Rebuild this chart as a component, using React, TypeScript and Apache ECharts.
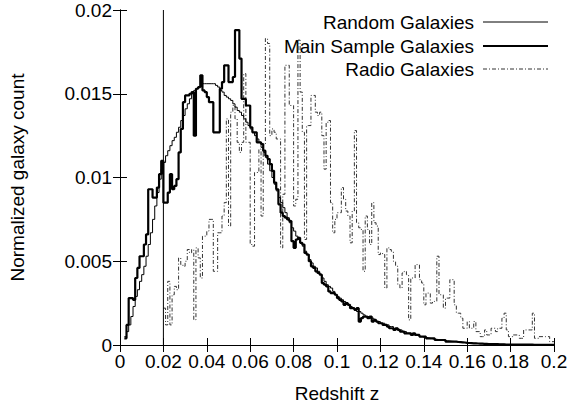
import React, { useEffect, useRef } from "react";
import * as echarts from "echarts";

const seriesNames = ["Random Galaxies", "Main Sample Galaxies", "Radio Galaxies"];
const binWidth = 0.001;
const cutZ = 0.02;

const randomStart = 0.002;
const randomValues = [
  0.0005, 0.0008, 0.0012, 0.0017, 0.0023, 0.0029, 0.0033, 0.0038, 0.0042, 0.0047, 0.0053, 0.006, 0.0067, 0.0075, 0.0083, 0.0091, 0.0099, 0.0105,
  0.0109, 0.0113, 0.0116, 0.0119, 0.0122, 0.0124, 0.0127, 0.013, 0.0134, 0.0137, 0.0141, 0.0144, 0.0147, 0.015, 0.0152, 0.0153, 0.0154, 0.0155, 0.0156, 0.0156,
  0.0156, 0.0156, 0.0156, 0.0156, 0.0155, 0.0154, 0.0152, 0.0151, 0.0149, 0.0148, 0.0147, 0.0146, 0.0144, 0.0142, 0.014, 0.0139, 0.0137, 0.0135, 0.0133, 0.0131,
  0.0129, 0.0127, 0.0125, 0.0123, 0.0121, 0.0118, 0.0115, 0.0112, 0.0108, 0.0104, 0.01, 0.0096, 0.0092, 0.0088, 0.0085, 0.0082, 0.0079, 0.0076, 0.0073, 0.007,
  0.0068, 0.0065, 0.0063, 0.0061, 0.0059, 0.0056, 0.0054, 0.0051, 0.0049, 0.0047, 0.0046, 0.0044, 0.0042, 0.004, 0.0038, 0.0036, 0.0035, 0.0034, 0.0032, 0.003,
  0.0029, 0.0028, 0.0027, 0.0026, 0.0025, 0.0024, 0.0023, 0.0022, 0.0021, 0.002, 0.002, 0.0019, 0.0018, 0.0017, 0.0017, 0.0016, 0.0016, 0.0015, 0.0014, 0.0014,
  0.0013, 0.0013, 0.0012, 0.0012, 0.0011, 0.0011, 0.001, 0.001, 0.0009, 0.0009, 0.0008, 0.0008, 0.0007, 0.0007, 0.0007, 0.0006, 0.0006, 0.0006, 0.0005, 0.0005,
  0.00045, 0.00043, 0.0004, 0.00038, 0.00036, 0.00034, 0.00032, 0.0003, 0.00028, 0.00027, 0.00025, 0.00024, 0.00022, 0.00021, 0.0002, 0.00018, 0.00017, 0.00016, 0.00015, 0.00013,
  0.00012, 0.00011, 0.0001, 0.0001, 0.00009, 0.00008, 0.00008, 0.00007, 0.00007, 0.00006, 0.00006, 0.00005, 0.00005, 0.00005, 0.00004, 0.00004, 0.00004, 0.00003, 0.00003, 0.00003,
  0.00003, 0.00002, 0.00002, 0.00002, 0.00002, 0.00002, 0.00002, 0.00002, 0.00002, 0.00002, 0.00001, 0.00001, 0.00001, 0.00001, 0.00001, 0.00001, 0.00001, 0.00001, 0.00001, 0.00001,
];

const mainStart = 0.002;
const mainValues = [
  0.0004, 0.0012, 0.0028, 0.0028, 0.0027, 0.004, 0.0046, 0.0053, 0.0053, 0.006, 0.0066, 0.0093, 0.0093, 0.0088, 0.0088, 0.0094, 0.0102, 0.011,
  0.0085, 0.0085, 0.0091, 0.0102, 0.0093, 0.0095, 0.0099, 0.0115, 0.0129, 0.0145, 0.0149, 0.0149, 0.015, 0.0151, 0.0125, 0.0153, 0.0154, 0.0161, 0.0152, 0.0151,
  0.0148, 0.0145, 0.0145, 0.0127, 0.0127, 0.0127, 0.0153, 0.0157, 0.0167, 0.0167, 0.0157, 0.0157, 0.016, 0.0188, 0.0188, 0.0171, 0.0147, 0.0147, 0.0143, 0.0143,
  0.013, 0.0127, 0.0127, 0.0121, 0.0121, 0.012, 0.0116, 0.0113, 0.0111, 0.0108, 0.0104, 0.0097, 0.0093, 0.0084, 0.0079, 0.0077, 0.0076, 0.0075, 0.0074, 0.0062,
  0.0058, 0.0063, 0.0064, 0.0061, 0.006, 0.0055, 0.0054, 0.005, 0.0047, 0.0046, 0.0044, 0.0043, 0.0042, 0.0037, 0.0036, 0.0035, 0.0032, 0.0031, 0.0031, 0.003,
  0.0028, 0.0027, 0.0026, 0.0024, 0.0025, 0.0024, 0.0022, 0.0022, 0.0021, 0.0022, 0.0014, 0.0016, 0.0017, 0.0017, 0.0016, 0.0017, 0.0014, 0.0015, 0.0014, 0.0013,
  0.0013, 0.0012, 0.0012, 0.0011, 0.001, 0.001, 0.0009, 0.001, 0.0009, 0.0008, 0.0008, 0.0007, 0.0007, 0.0007, 0.0006, 0.0007, 0.0006, 0.0006, 0.0005, 0.0005,
  0.0005, 0.0004, 0.0004, 0.0004, 0.0004, 0.0003, 0.0003, 0.0003, 0.0003, 0.0003, 0.0002, 0.0002, 0.0002, 0.0002, 0.0002, 0.00018, 0.00017, 0.00016, 0.00015, 0.00013,
  0.00012, 0.00011, 0.0001, 0.0001, 0.00009, 0.00008, 0.00008, 0.00007, 0.00007, 0.00006, 0.00006, 0.00005, 0.00005, 0.00005, 0.00004, 0.00004, 0.00004, 0.00003, 0.00003, 0.00003,
  0.00003, 0.00002, 0.00002, 0.00002, 0.00002, 0.00002, 0.00002, 0.00002, 0.00002, 0.00002, 0.00001, 0.00001, 0.00001, 0.00001, 0.00001, 0.00001, 0.00001, 0.00001, 0.00001, 0.00001,
];

const radioStart = 0.02;
const radioValues = [
  0.0022, 0.0012, 0.0038, 0.0012, 0.003, 0.0035, 0.0033, 0.0052, 0.0048, 0.0047, 0.005, 0.0057, 0.0055, 0.0057, 0.0015, 0.0058, 0.0052, 0.004, 0.0065, 0.0065,
  0.0068, 0.0075, 0.0075, 0.0044, 0.0044, 0.0067, 0.0067, 0.0077, 0.0085, 0.0135, 0.0071, 0.0139, 0.0143, 0.0135, 0.0121, 0.0115, 0.0121, 0.0162, 0.0121, 0.0121,
  0.006, 0.0059, 0.0103, 0.0103, 0.0117, 0.0077, 0.012, 0.0183, 0.018, 0.0125, 0.0129, 0.0127, 0.0123, 0.0123, 0.0058, 0.009, 0.0167, 0.0167, 0.0143, 0.0143,
  0.0083, 0.0087, 0.0182, 0.0151, 0.0127, 0.0063, 0.0131, 0.0131, 0.0149, 0.0149, 0.0139, 0.0137, 0.0139, 0.0125, 0.0105, 0.0133, 0.0134, 0.0085, 0.0067, 0.0075,
  0.0079, 0.0079, 0.0094, 0.0087, 0.008, 0.0077, 0.0061, 0.008, 0.0128, 0.0073, 0.007, 0.0069, 0.0044, 0.0077, 0.0069, 0.006, 0.0085, 0.0073, 0.0071, 0.0054,
  0.0055, 0.0054, 0.0034, 0.0058, 0.0057, 0.0056, 0.005, 0.0047, 0.0036, 0.0034, 0.0043, 0.0044, 0.0042, 0.0015, 0.004, 0.004, 0.0048, 0.0048, 0.0039, 0.0037,
  0.0024, 0.0031, 0.0031, 0.0025, 0.0026, 0.0026, 0.0053, 0.003, 0.003, 0.0022, 0.0028, 0.0028, 0.0039, 0.0039, 0.0024, 0.0019, 0.0019, 0.0016, 0.001, 0.001,
  0.0014, 0.001, 0.001, 0.0014, 0.0008, 0.0008, 0.0005, 0.0005, 0.0009, 0.0006, 0.0006, 0.001, 0.001, 0.0008, 0.001, 0.001, 0.0016, 0.0019, 0.0009, 0.0005,
  0.0005, 0.0006, 0.0006, 0.0006, 0.0004, 0.0004, 0.0009, 0.0009, 0.0009, 0.0009, 0.0019, 0.0004, 0.0004, 0.0005, 0.0005, 0.0005, 0.0005, 0.0005, 0.0002, 0.0002,
];

const FONT = "'Liberation Sans', Arial, Helvetica, sans-serif";
const FS = 19;

function toSteps(start: number, values: number[]) {
  const pts: number[][] = values.map((v, i) => [Number((start + i * binWidth).toFixed(4)), v]);
  pts.push([Number((start + values.length * binWidth).toFixed(4)), values[values.length - 1]]);
  return pts;
}

const fmt = (v: number) => String(parseFloat(v.toFixed(4)));

export default function App() {
  const ref = useRef<HTMLDivElement>(null);
  useEffect(() => {
    if (!ref.current) return;
    const chart = echarts.init(ref.current, undefined, { renderer: "svg" });
    const axisCommon = {
      axisLine: { show: true, lineStyle: { color: "#000", width: 1 } },
      axisTick: { show: true, inside: true, length: 7, lineStyle: { color: "#000", width: 1 } },
      splitLine: { show: false },
    };
    const legendX = 474;
    const legendLineX1 = 483;
    const legendLineX2 = 548;
    const legendYs = [22, 46, 69];
    const legendStyles = [
      { stroke: "#000", lineWidth: 1 },
      { stroke: "#000", lineWidth: 2.2 },
      { stroke: "#333", lineWidth: 1, lineDash: [4, 2, 1, 2] },
    ];
    const graphics: any[] = [];
    seriesNames.forEach((name, i) => {
      graphics.push({
        type: "text",
        x: legendX,
        y: legendYs[i],
        style: { text: name, align: "right", verticalAlign: "middle", font: `${FS}px ${FONT}`, fill: "#000" },
      });
      graphics.push({
        type: "line",
        shape: { x1: legendLineX1, y1: legendYs[i], x2: legendLineX2, y2: legendYs[i] },
        style: legendStyles[i],
      });
    });
    chart.setOption({
      animation: false,
      backgroundColor: "#fff",
      textStyle: { fontFamily: FONT },
      grid: { left: 116, right: 18, top: 10, bottom: 58 },
      xAxis: [
        {
          type: "value",
          min: 0,
          max: 0.2,
          interval: 0.02,
          name: "Redshift z",
          nameLocation: "middle",
          nameGap: 39,
          nameTextStyle: { fontSize: FS, color: "#000", fontFamily: FONT },
          axisLabel: { fontSize: FS, color: "#000", margin: 7, fontFamily: FONT, formatter: fmt },
          ...axisCommon,
        },
        {
          type: "value",
          position: "top",
          min: 0,
          max: 0.2,
          interval: 0.02,
          axisLabel: { show: false },
          ...axisCommon,
        },
      ],
      yAxis: [
        {
          type: "value",
          min: 0,
          max: 0.02,
          interval: 0.005,
          name: "Normalized galaxy count",
          nameLocation: "middle",
          nameGap: 93,
          nameTextStyle: { fontSize: FS, color: "#000", fontFamily: FONT },
          axisLabel: { fontSize: FS, color: "#000", margin: 8, fontFamily: FONT, formatter: fmt },
          ...axisCommon,
        },
        {
          type: "value",
          position: "right",
          min: 0,
          max: 0.02,
          interval: 0.005,
          axisLabel: { show: false },
          ...axisCommon,
        },
      ],
      series: [
        {
          name: seriesNames[2],
          type: "line",
          step: "end",
          showSymbol: false,
          data: toSteps(radioStart, radioValues),
          lineStyle: { color: "#333", width: 1, type: [4, 2, 1, 2] },
          z: 2,
        },
        {
          name: seriesNames[0],
          type: "line",
          step: "end",
          showSymbol: false,
          data: toSteps(randomStart, randomValues),
          lineStyle: { color: "#000", width: 1 },
          z: 3,
        },
        {
          name: seriesNames[1],
          type: "line",
          step: "end",
          showSymbol: false,
          data: toSteps(mainStart, mainValues),
          lineStyle: { color: "#000", width: 2.2 },
          z: 4,
        },
        {
          name: "cut",
          type: "line",
          showSymbol: false,
          data: [
            [cutZ, 0],
            [cutZ, 0.02],
          ],
          lineStyle: { color: "#000", width: 1 },
          z: 5,
        },
      ],
      graphic: graphics,
    });
    return () => chart.dispose();
  }, []);
  return (
    <div
      ref={ref}
      style={{ position: "fixed", left: 0, top: 0, width: 572, height: 408, background: "#fff" }}
    />
  );
}
